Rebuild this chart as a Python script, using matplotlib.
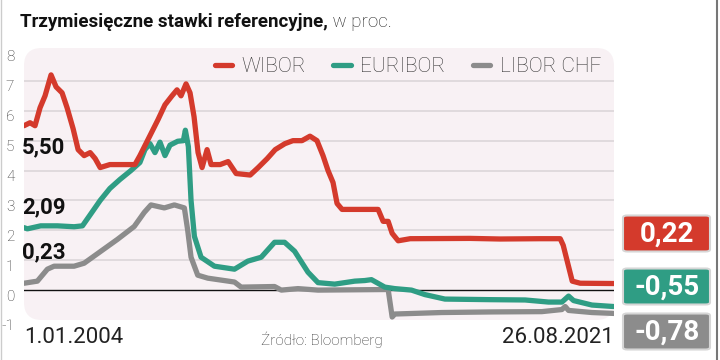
import matplotlib
matplotlib.use("Agg")
import matplotlib.pyplot as plt
import matplotlib.transforms as mtransforms
from matplotlib.patches import FancyBboxPatch
from matplotlib.lines import Line2D

plt.rcParams['font.family'] = ['Roboto', 'DejaVu Sans']

# dane (rok dziesiętny, stopa w %)
wibor_t = [2004.0, 2004.18, 2004.33, 2004.48, 2004.63, 2004.81, 2004.96, 2005.14, 2005.29, 2005.47,
           2005.62, 2005.80, 2005.98, 2006.13, 2006.28, 2006.57, 2007.02, 2007.32, 2007.47, 2007.65,
           2007.83, 2008.01, 2008.22, 2008.43, 2008.58, 2008.70, 2008.85, 2008.97, 2009.09, 2009.21,
           2009.33, 2009.48, 2009.60, 2009.87, 2010.11, 2010.35, 2010.77, 2011.01, 2011.28, 2011.52,
           2011.81, 2012.05, 2012.32, 2012.56, 2012.77, 2012.95, 2013.10, 2013.25, 2013.37, 2013.52,
           2014.06, 2014.60, 2014.75, 2014.90, 2015.02, 2015.20, 2015.56, 2017.35, 2018.25, 2019.45,
           2020.05, 2020.14, 2020.23, 2020.32, 2020.41, 2020.65, 2021.66]
wibor_v = [5.50, 5.6, 5.5, 6.1, 6.5, 7.2, 6.8, 6.6, 6.1, 5.4,
           4.7, 4.5, 4.6, 4.4, 4.1, 4.2, 4.2, 4.2, 4.5, 4.9,
           5.3, 5.7, 6.2, 6.5, 6.7, 6.5, 6.9, 6.6, 5.8, 4.6,
           4.1, 4.7, 4.2, 4.2, 4.3, 3.9, 3.85, 4.1, 4.4, 4.7,
           4.9, 5.0, 5.0, 5.15, 5.0, 4.5, 4.0, 3.6, 2.9, 2.7,
           2.7, 2.7, 2.3, 2.3, 1.9, 1.65, 1.72, 1.73, 1.71, 1.72,
           1.72, 1.5, 1.1, 0.7, 0.3, 0.23, 0.22]

euribor_t = [2004.0, 2004.1, 2004.5, 2005.0, 2005.5, 2005.75, 2006.0, 2006.28, 2006.57, 2006.87,
             2007.2, 2007.47, 2007.62, 2007.77, 2007.92, 2008.07, 2008.22, 2008.37, 2008.6, 2008.77,
             2008.83, 2008.92, 2009.0, 2009.1, 2009.3, 2009.7, 2010.3, 2010.7, 2011.1, 2011.5,
             2011.8, 2012.1, 2012.5, 2012.8, 2013.3, 2013.9, 2014.2, 2014.4, 2014.8, 2015.1,
             2015.6, 2016.0, 2016.6, 2018.0, 2019.0, 2019.7, 2020.1, 2020.3, 2020.45, 2021.0, 2021.66]
euribor_v = [2.09, 2.05, 2.15, 2.15, 2.12, 2.15, 2.55, 3.0, 3.4, 3.7,
             4.0, 4.27, 4.7, 4.9, 4.6, 4.95, 4.5, 4.85, 4.98, 5.0,
             5.35, 4.8, 3.0, 1.8, 1.1, 0.8, 0.7, 0.97, 1.1, 1.6,
             1.6, 1.3, 0.6, 0.25, 0.2, 0.3, 0.32, 0.35, 0.1, 0.05,
             0.0, -0.15, -0.3, -0.32, -0.33, -0.4, -0.4, -0.2, -0.35, -0.5, -0.55]

libor_t = [2004.0, 2004.4, 2004.7, 2004.9, 2005.5, 2005.8, 2006.3, 2006.8, 2007.3, 2007.6,
           2007.8, 2008.2, 2008.5, 2008.8, 2008.9, 2009.0, 2009.2, 2009.5, 2010.3, 2010.5,
           2011.5, 2011.7, 2012.2, 2012.8, 2014.9, 2015.02, 2015.1, 2016.5, 2018.0, 2019.5,
           2020.1, 2020.2, 2020.3, 2021.0, 2021.66]
libor_v = [0.23, 0.3, 0.7, 0.8, 0.8, 0.9, 1.3, 1.7, 2.13, 2.6,
           2.85, 2.75, 2.85, 2.75, 2.0, 1.1, 0.5, 0.4, 0.27, 0.1,
           0.12, 0.0, 0.05, 0.0, 0.02, -0.9, -0.8, -0.75, -0.73, -0.72,
           -0.65, -0.55, -0.68, -0.75, -0.78]

names = ["WIBOR", "EURIBOR", "LIBOR CHF"]
colors = ["#d43a2c", "#2f9d84", "#8c8c8c"]
start_labels = ["5,50", "2,09", "0,23"]
end_labels = ["0,22", "-0,55", "-0,78"]

W, H = 720, 360
fig = plt.figure(figsize=(7.2, 3.6), dpi=100)
fig.patch.set_facecolor("white")

ax = fig.add_axes([24 / W, 40 / H, 590 / W, 272 / H])
ax.patch.set_visible(False)
for s in ax.spines.values():
    s.set_visible(False)
ax.set_xlim(2004.0, 2021.66)
ax.set_ylim(-0.97, 8.1)

# różowe tło z zaokrąglonymi rogami
bg = FancyBboxPatch((0, 0), 1, 1, boxstyle="round,pad=0,rounding_size=0.03",
                    mutation_aspect=590 / 272,
                    transform=ax.transAxes, facecolor="#f8f1f4", edgecolor="none",
                    zorder=0, clip_on=False)
ax.add_patch(bg)

for g in range(1, 8):
    ax.axhline(g, color="#d9d3d6", lw=1.1, zorder=1)
ax.axhline(0, color="#111111", lw=1.0, zorder=1)

ax.plot(libor_t, libor_v, color=colors[2], lw=3.8, solid_capstyle="round", solid_joinstyle="round", zorder=3, label=names[2])
ax.plot(euribor_t, euribor_v, color=colors[1], lw=3.8, solid_capstyle="round", solid_joinstyle="round", zorder=4, label=names[1])
ax.plot(wibor_t, wibor_v, color=colors[0], lw=3.8, solid_capstyle="round", solid_joinstyle="round", zorder=5, label=names[0])

ax.set_yticks(range(-1, 9))
ax.set_yticklabels([str(v) for v in range(-1, 9)], fontsize=11, fontweight="light", color="#333333")
ax.tick_params(axis="y", length=0, pad=7)
shift = mtransforms.ScaledTranslation(0, -0.05, fig.dpi_scale_trans)
for t in ax.get_yticklabels():
    t.set_transform(t.get_transform() + shift)
ax.set_xticks([2004.0, 2021.66])
ax.set_xticklabels(["1.01.2004", "26.08.2021"], fontsize=16, color="#222222")
ax.tick_params(axis="x", length=0, pad=5)
xl = ax.get_xticklabels()
xl[0].set_ha("left")
xl[1].set_ha("right")

# wartości początkowe
for lab, y in zip(start_labels, [4.77, 2.77, 1.27]):
    ax.text(2003.95, y, lab, fontsize=16, fontweight="bold", color="#111111",
            ha="left", va="center", zorder=6)

# legenda
h, l = ax.get_legend_handles_labels()
leg = ax.legend(h[::-1], l[::-1], ncol=3, frameon=False, loc="center right",
                bbox_to_anchor=(601 / W, 1 - 67 / H), bbox_transform=fig.transFigure,
                borderaxespad=0, borderpad=0, handlelength=0.85, handletextpad=0.45,
                columnspacing=1.3, prop={"family": "Roboto", "size": 15, "weight": "light"})
for t in leg.get_texts():
    t.set_color("#333333")

# ramki z wartościami końcowymi
for lab, c, yc in zip(end_labels, colors, [233.5, 286.5, 331.5]):
    box = FancyBboxPatch((623 / W, (H - yc - 18) / H), 87 / W, 36 / H,
                         boxstyle="round,pad=0,rounding_size=0.006",
                         transform=fig.transFigure, facecolor=c, edgecolor="#d6d6d6", lw=1.5, zorder=5)
    fig.patches.append(box)
    fig.text(667 / W, 1 - (yc + 1) / H, lab, fontsize=20, fontweight="bold", color="white",
             ha="center", va="center", zorder=6)

# tytuł
t1 = fig.text(20 / W, 1 - 22 / H, "Trzymiesięczne stawki referencyjne,", fontsize=13.5,
              fontweight="bold", color="#111111", ha="left", va="center")
ax.annotate(" w proc.", xy=(1, 0), xycoords=t1, va="bottom", ha="left",
            fontsize=13.5, fontweight="light", color="#222222")

fig.text(322 / W, 1 - 340 / H, "Źródło: Bloomberg", fontsize=11, fontweight="light",
         color="#333333", ha="center", va="center")

# krawędzie
fig.add_artist(Line2D([717 / W, 717 / W], [0, 1], transform=fig.transFigure, color="#777777", lw=1.5))
fig.add_artist(Line2D([0.5 / W, 0.5 / W], [0, 1], transform=fig.transFigure, color="#cccccc", lw=1))

fig.savefig("out.png", dpi=100)
